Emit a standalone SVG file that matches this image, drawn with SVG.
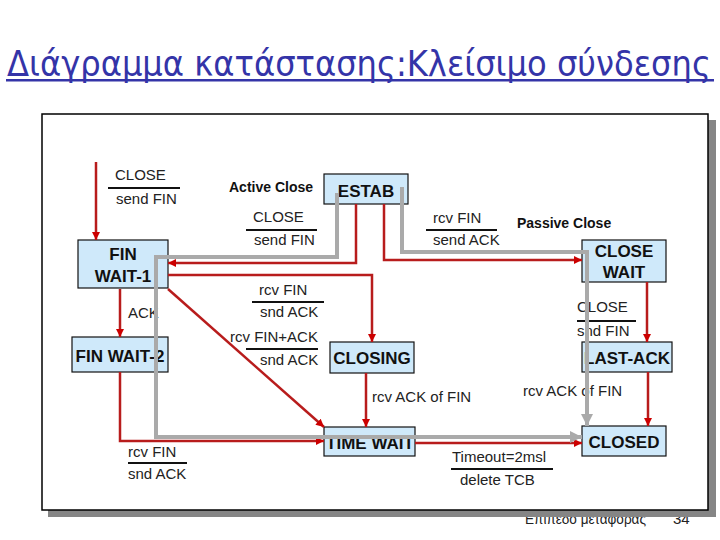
<svg xmlns="http://www.w3.org/2000/svg" width="720" height="540" viewBox="0 0 720 540">
<style>
.title{font-family:"DejaVu Sans","Noto Sans",sans-serif;font-size:36px;fill:#3434a8}
.node rect{fill:#cfe9fa;stroke:#111;stroke-width:1.2}
.node text{font-family:"Liberation Sans",Arial,sans-serif;font-size:17px;font-weight:bold;fill:#111;text-anchor:middle}
.lbl{font-family:"Liberation Sans",Arial,sans-serif;font-size:15px;fill:#222}
.blbl{font-family:"Liberation Sans",Arial,sans-serif;font-size:14px;font-weight:bold;fill:#111}
.bar{stroke:#111;stroke-width:2}
.red{fill:none;stroke:#b81c1c;stroke-width:2.5}
.gray{fill:none;stroke:#aaaaaa;stroke-width:4}
.foot{font-family:"Liberation Sans",Arial,sans-serif;font-size:15px;fill:#222}
</style>
<defs>
<marker id="ar" markerUnits="userSpaceOnUse" markerWidth="8" markerHeight="8" refX="8" refY="4" orient="auto"><path d="M0,0 L8,4 L0,8 z" fill="#cc0000"/></marker>
<marker id="ag" markerUnits="userSpaceOnUse" markerWidth="12" markerHeight="12" refX="12" refY="6" orient="auto"><path d="M0,0 L12,6 L0,12 z" fill="#aaaaaa"/></marker>
</defs>
<rect width="720" height="540" fill="#fff"/>
<rect x="6" y="79" width="708" height="2.5" fill="#3434a8"/>
<text class="title" transform="translate(7,76) scale(0.85,1)" x="0" y="0" textLength="828" lengthAdjust="spacingAndGlyphs">Διάγραμμα κατάστασης:Κλείσιμο σύνδεσης</text>
<text class="foot" x="525" y="524" textLength="121" lengthAdjust="spacingAndGlyphs">Επίπεδο μεταφοράς</text>
<text class="foot" x="673" y="524">34</text>
<rect x="48" y="120" width="668" height="397" fill="#858585"/>
<rect x="42" y="114" width="666" height="396" fill="#fff" stroke="#000" stroke-width="1.5"/>

<g id="estab" class="node"><rect x="324" y="174" width="84" height="30"/><text x="366" y="197">ESTAB</text></g>
<g id="finwait1" class="node"><rect x="78" y="240" width="90" height="48"/><text x="123" y="260">FIN</text><text x="123" y="282">WAIT-1</text></g>
<g id="finwait2" class="node"><rect x="72" y="337" width="96" height="35"/><text x="120" y="362">FIN WAIT-2</text></g>
<g id="closing" class="node"><rect x="330" y="342" width="84" height="31"/><text x="372" y="364">CLOSING</text></g>
<g id="timewait" class="node"><rect x="324" y="427" width="91" height="29"/><text x="370" y="449">TIME WAIT</text></g>
<g id="closewait" class="node"><rect x="582" y="240" width="84" height="42"/><text x="624" y="257">CLOSE</text><text x="624" y="278">WAIT</text></g>
<g id="lastack" class="node"><rect x="582" y="342" width="90" height="30"/><text x="627" y="364">LAST-ACK</text></g>
<g id="closed" class="node"><rect x="582" y="426" width="84" height="30"/><text x="624" y="448">CLOSED</text></g>

<g id="connectors">
<path class="red" d="M96,162 V240" marker-end="url(#ar)"/>
<path class="red" d="M356,204 V263 H168" marker-end="url(#ar)"/>
<path class="red" d="M384,204 V260 H582" marker-end="url(#ar)"/>
<path class="red" d="M168,275 H372 V342" marker-end="url(#ar)"/>
<path class="red" d="M168,289 L324,427" marker-end="url(#ar)"/>
<path class="red" d="M120,289 V337" marker-end="url(#ar)"/>
<path class="red" d="M120,372 V441 H324" marker-end="url(#ar)"/>
<path class="red" d="M366,373 V427" marker-end="url(#ar)"/>
<path class="red" d="M647,282 V342" marker-end="url(#ar)"/>
<path class="red" d="M648,372 V426" marker-end="url(#ar)"/>
<path class="red" d="M415,443 H582" marker-end="url(#ar)"/>

<text class="lbl" x="115" y="180">CLOSE</text><line class="bar" x1="108" y1="188" x2="180" y2="188"/><text class="lbl" x="116" y="204">send FIN</text>
<text class="blbl" x="229" y="192">Active Close</text>
<text class="lbl" x="253" y="222">CLOSE</text><line class="bar" x1="246" y1="230" x2="317" y2="230"/><text class="lbl" x="254" y="245">send FIN</text>
<text class="lbl" x="433" y="223">rcv FIN</text><line class="bar" x1="426" y1="230" x2="497" y2="230"/><text class="lbl" x="433" y="245">send ACK</text>
<text class="blbl" x="517" y="228">Passive Close</text>
<text class="lbl" x="259" y="295">rcv FIN</text><line class="bar" x1="252" y1="302" x2="324" y2="302"/><text class="lbl" x="260" y="317">snd ACK</text>
<text class="lbl" x="230" y="342">rcv FIN+ACK</text><line class="bar" x1="246" y1="349" x2="318" y2="349"/><text class="lbl" x="260" y="365">snd ACK</text>
<text class="lbl" x="128" y="318">ACK</text>
<text class="lbl" x="128" y="457">rcv FIN</text><line class="bar" x1="128" y1="463" x2="187" y2="463"/><text class="lbl" x="128" y="479">snd ACK</text>
<text class="lbl" x="372" y="402">rcv ACK of FIN</text>
<text class="lbl" x="577" y="312">CLOSE</text><line class="bar" x1="577" y1="321" x2="636" y2="321"/><text class="lbl" x="577" y="336">snd FIN</text>
<text class="lbl" x="523" y="396">rcv ACK of FIN</text>
<text class="lbl" x="452" y="462">Timeout=2msl</text><line class="bar" x1="451" y1="469" x2="553" y2="469"/><text class="lbl" x="460" y="485">delete TCB</text>

<path class="gray" d="M337,193 V257 H156 V437 H582" marker-end="url(#ag)"/>
<path class="gray" d="M402,187 V252 H587 V426" marker-end="url(#ag)"/>
</g>
</svg>
